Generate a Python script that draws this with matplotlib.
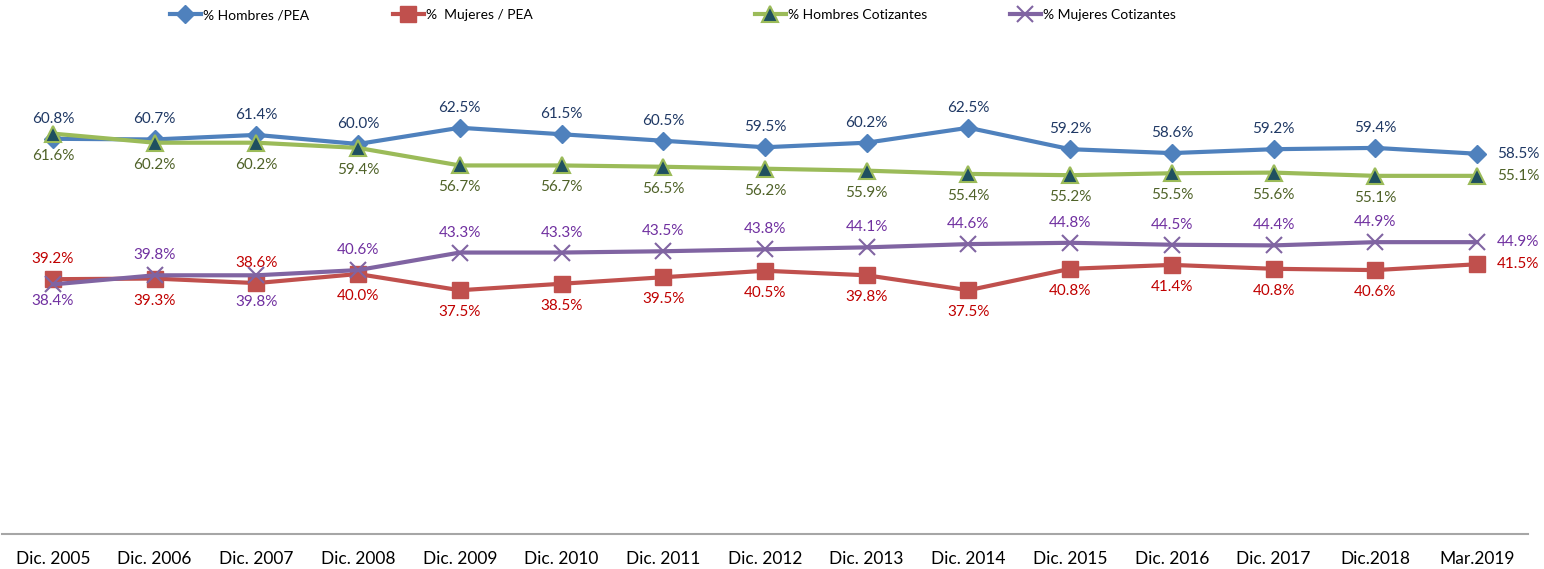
import matplotlib.pyplot as plt
from matplotlib.lines import Line2D

plt.rcParams['font.family'] = ['Lato', 'DejaVu Sans']

periodos = ['Dic. 2005', 'Dic. 2006', 'Dic. 2007', 'Dic. 2008', 'Dic. 2009', 'Dic. 2010',
            'Dic. 2011', 'Dic. 2012', 'Dic. 2013', 'Dic. 2014', 'Dic. 2015', 'Dic. 2016',
            'Dic. 2017', 'Dic.2018', 'Mar.2019']

hombres_pea = [60.8, 60.7, 61.4, 60.0, 62.5, 61.5, 60.5, 59.5, 60.2, 62.5, 59.2, 58.6, 59.2, 59.4, 58.5]
mujeres_pea = [39.2, 39.3, 38.6, 40.0, 37.5, 38.5, 39.5, 40.5, 39.8, 37.5, 40.8, 41.4, 40.8, 40.6, 41.5]
hombres_cot = [61.6, 60.2, 60.2, 59.4, 56.7, 56.7, 56.5, 56.2, 55.9, 55.4, 55.2, 55.5, 55.6, 55.1, 55.1]
mujeres_cot = [38.4, 39.8, 39.8, 40.6, 43.3, 43.3, 43.5, 43.8, 44.1, 44.6, 44.8, 44.5, 44.4, 44.9, 44.9]

fig = plt.figure(figsize=(15.44, 5.69), dpi=100)
ax = fig.add_axes([0.0013, 35 / 569, 0.9883, 455 / 569])
x = list(range(len(periodos)))

# serie: nombre, valores, color linea, marcador, color texto, etiquetas arriba (indices), x legenda
series = [
    ('% Hombres /PEA', hombres_pea, '#4F81BD', dict(marker='D', ms=9, mfc='#4F81BD', mec='#4F81BD'),
     '#1F3864', set(range(15)), 170),
    ('%  Mujeres / PEA', mujeres_pea, '#C0504D', dict(marker='s', ms=11, mfc='#C0504D', mec='#C0504D'),
     '#C00000', {0, 2}, 393),
    ('% Hombres Cotizantes', hombres_cot, '#9BBB59', dict(marker='^', ms=11, mfc='#1F5060', mec='#9BBB59', mew=1.5),
     '#4F6228', set(), 755),
    ('% Mujeres Cotizantes', mujeres_cot, '#8064A2', dict(marker='x', ms=11, mec='#8064A2', mew=1.5),
     '#7030A0', set(range(15)) - {0, 2}, 1010),
]
# ajustes puntuales de separacion (pixeles)
ajustes = {('% Mujeres Cotizantes', 0): -17, ('% Mujeres Cotizantes', 2): -27}

for nombre, vals, col, mk, tcol, arriba, xleg in series:
    ax.plot(x, vals, color=col, lw=3, zorder=3, **mk)
    h = Line2D([0], [0], color=col, lw=3, **mk)
    fig.legend([h], [nombre], loc='center left', bbox_to_anchor=(xleg / 1544, 1 - 15 / 569),
               frameon=False, fontsize=10, handlelength=2.2, handletextpad=0.15,
               borderpad=0, borderaxespad=0)
    for i, v in enumerate(vals):
        if i == len(vals) - 1:
            ax.annotate(f'{v:.1f}%', (i, v), xytext=(20, 0), textcoords='offset pixels',
                        ha='left', va='center', color=tcol, fontsize=11)
            continue
        dy = 20 if i in arriba else -22
        dy = ajustes.get((nombre, i), dy)
        ax.annotate(f'{v:.1f}%', (i, v), xytext=(0, dy), textcoords='offset pixels',
                    ha='center', va='center', color=tcol, fontsize=11)

ax.set_xlim(-0.5, len(periodos) - 0.5)
ax.set_ylim(0, 70)
ax.set_xticks(x)
ax.set_xticklabels(periodos, fontsize=12.5)
ax.tick_params(axis='x', length=0, pad=12)
ax.set_yticks([])
for s in ['top', 'left', 'right']:
    ax.spines[s].set_visible(False)
ax.spines['bottom'].set_color('#A6A6A6')
ax.spines['bottom'].set_linewidth(1.5)

fig.savefig('out.png', dpi=100)
